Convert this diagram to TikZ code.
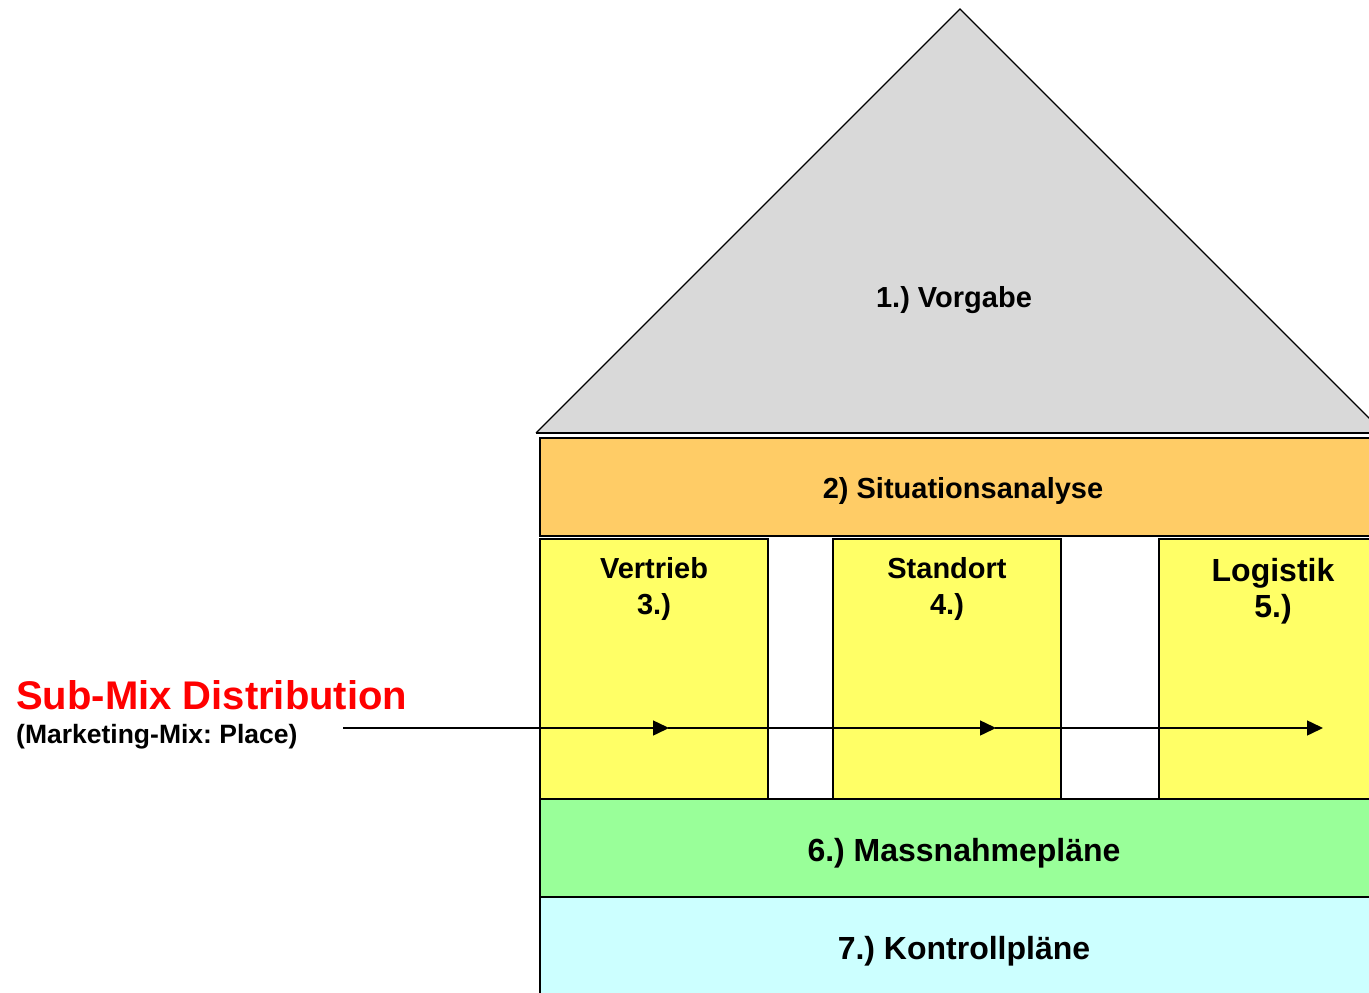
\documentclass[tikz,border=0pt]{standalone}
\usepackage{fontspec}
\setmainfont{Liberation Sans}
\usetikzlibrary{arrows.meta}
\frenchspacing
\definecolor{roofgray}{HTML}{D9D9D9}
\definecolor{sitorange}{HTML}{FFCC66}
\definecolor{pillaryellow}{HTML}{FFFF66}
\definecolor{plangreen}{HTML}{99FF99}
\definecolor{controlcyan}{HTML}{CCFFFF}
\tikzset{
  part/.style={draw=black, line width=1.4pt},
  lbl/.style={font=\bfseries\fontsize{29}{36}\selectfont, inner sep=0pt, align=center},
  biglbl/.style={font=\bfseries\fontsize{32}{36}\selectfont, inner sep=0pt, align=center},
  flow/.style={line width=1.5pt, -{Triangle[length=16pt,width=15pt]}, shorten >=-1pt},
}
\begin{document}
\begin{tikzpicture}[x=1pt, y=-1pt]
\useasboundingbox (0,0) rectangle (1369,993);
\clip (0,0) rectangle (1369,993);

% roof
\coordinate (apex) at (960,9);
\coordinate (eaveL) at (536,433);
\coordinate (eaveR) at (1384,433);
\filldraw[fill=roofgray, draw=black, line width=1.2pt] (eaveL) -- (apex) -- (eaveR);
\draw[line width=2pt] (eaveL) -- (eaveR);
\node[lbl] (vorgabe) at (954,300) {1.) Vorgabe};

% storeys
\filldraw[part, fill=sitorange] (540,438) rectangle (1385,536);
\node[lbl] (situation) at (963,491) {2) Situationsanalyse};

\filldraw[part, fill=pillaryellow] (540,539) rectangle (768,799);
\filldraw[part, fill=pillaryellow] (833,539) rectangle (1061,799);
\filldraw[part, fill=pillaryellow] (1159,539) rectangle (1385,799);
\node[lbl] (vertrieb) at (654,588.5) {Vertrieb\\3.)};
\node[lbl] (standort) at (947,588.5) {Standort\\4.)};
\node[biglbl] (logistik) at (1273,591.5) {Logistik\\5.)};

\filldraw[part, fill=plangreen] (540,799) rectangle (1385,897);
\node[biglbl] (massnahme) at (964,853) {6.) Massnahmepläne};

\filldraw[part, fill=controlcyan] (540,897) rectangle (1385,1005);
\node[biglbl] (kontrolle) at (964,951) {7.) Kontrollpläne};

% side label and distribution flow
\node[anchor=west, inner sep=0pt, text=red, font=\bfseries\fontsize{40}{44}\selectfont] (submix) at (16,695) {Sub-Mix Distribution};
\node[anchor=west, inner sep=0pt, font=\bfseries\fontsize{26.5}{30}\selectfont] (place) at (16,737) {(Marketing-Mix: Place)};

\coordinate (f0) at (343,728);
\coordinate (f1) at (668,728);
\coordinate (f2) at (995,728);
\coordinate (f3) at (1322,728);
\draw[flow] (f0) -- (f1);
\draw[flow] (f1) -- (f2);
\draw[flow] (f2) -- (f3);
\end{tikzpicture}
\end{document}
